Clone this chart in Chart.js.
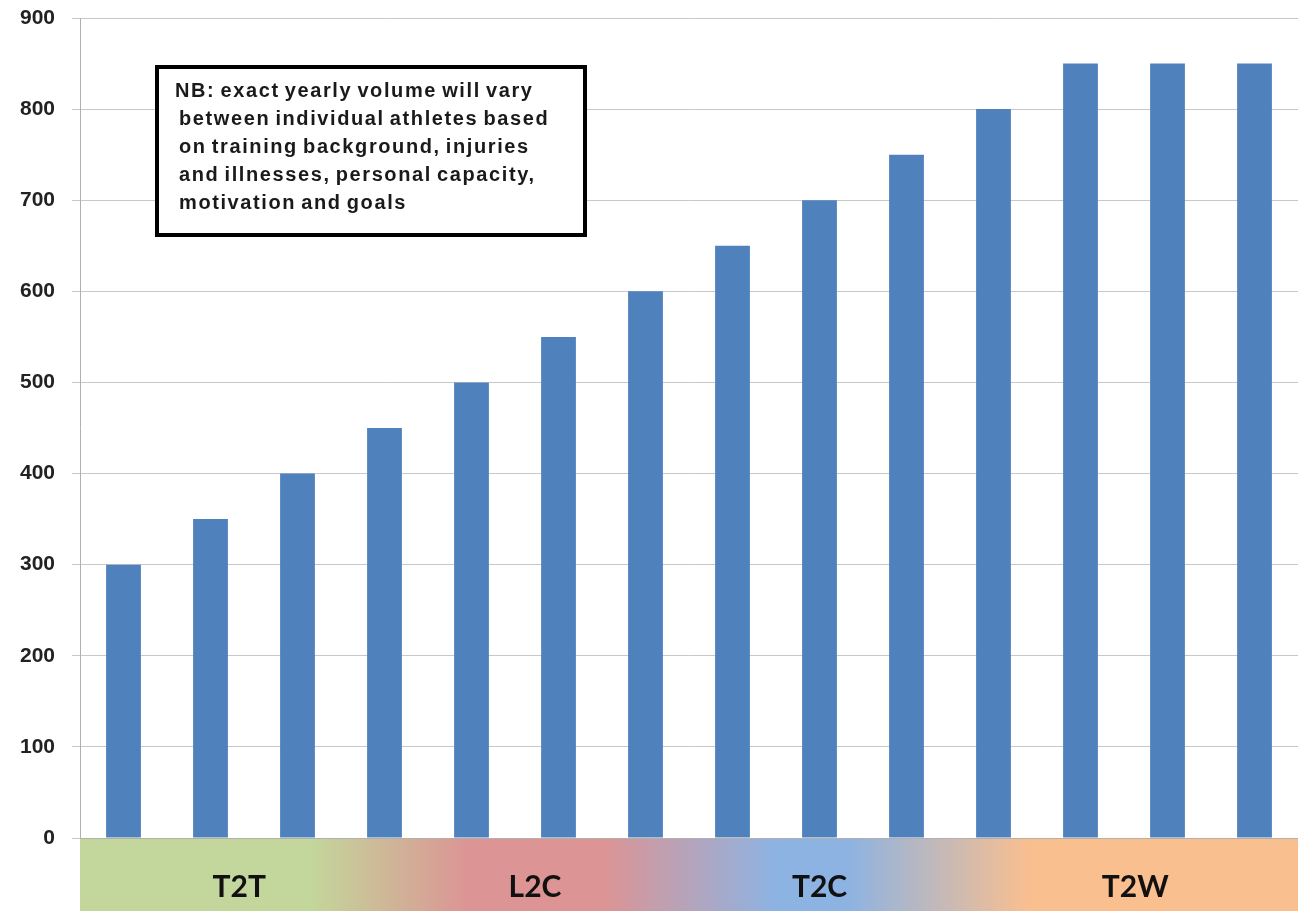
<!DOCTYPE html>
<html><head><meta charset="utf-8">
<script src="https://cdn.jsdelivr.net/npm/chart.js@4"></script>
<style>html,body{margin:0;padding:0;background:#fff;}#wrap{width:1298px;height:911px;}</style>
</head><body><div id="wrap"><canvas id="c"></canvas></div>
<script>
const categories = ['1','2','3','4','5','6','7','8','9','10','11','12','13','14'];
const volumes = [300,350,400,450,500,550,600,650,700,750,800,850,850,850];
const phaseLabels = ['T2T','L2C','T2C','T2W'];
const phaseCentres = [1.33,4.73,8.0,11.63];
const noteLines = ['NB: exact yearly volume will vary','between individual athletes based','on training background, injuries','and illnesses, personal capacity,','motivation and goals'];

const bandPlugin = {
  id:'band',
  beforeDraw(chart){
    const {ctx, chartArea:a} = chart;
    ctx.save();
    ctx.fillStyle='#fff';ctx.fillRect(0,0,chart.width,chart.height);
    const w=a.right-a.left;
    const g=ctx.createLinearGradient(a.left,0,a.right,0);
    g.addColorStop(0,'#c3d69b');g.addColorStop(0.19,'#c3d69b');
    g.addColorStop(0.32,'#dc9494');g.addColorStop(0.43,'#dc9494');
    g.addColorStop(0.57,'#8db3e2');g.addColorStop(0.63,'#8db3e2');
    g.addColorStop(0.78,'#fabf8f');g.addColorStop(1,'#fabf8f');
    ctx.fillStyle=g;
    ctx.fillRect(a.left,a.bottom,w,chart.height-a.bottom);
    ctx.fillStyle='#111';
    ctx.font='bold 30px Lato, "Open Sans", sans-serif';
    ctx.textAlign='center';ctx.textBaseline='alphabetic';
    phaseLabels.forEach((l,i)=>{
      const px=a.left+(phaseCentres[i]+0.5)*w/categories.length;
      ctx.fillText(l,px,a.bottom+59);
    });
    ctx.restore();
  },
  afterDraw(chart){
    const {ctx}=chart;
    ctx.save();
    ctx.fillStyle='#fff';
    ctx.fillRect(157,67,428,168);
    ctx.lineWidth=4;ctx.strokeStyle='#000';
    ctx.strokeRect(157,67,428,168);
    ctx.fillStyle='#1a1a1a';
    ctx.font='bold 20px "Liberation Sans", Arial, sans-serif';
    ctx.letterSpacing='1.6px';
    ctx.wordSpacing='-2px';
    ctx.textAlign='left';ctx.textBaseline='alphabetic';
    noteLines.forEach((l,i)=>ctx.fillText(l,i===0?175:179,97+i*28));
    ctx.restore();
  }
};

new Chart(document.getElementById('c'),{
  type:'bar',
  data:{labels:categories,datasets:[{data:volumes,backgroundColor:'#4f81bd',barPercentage:0.4,categoryPercentage:1}]},
  options:{
    responsive:true,maintainAspectRatio:false,animation:false,
    layout:{padding:{top:18,bottom:65,right:0,left:0}},
    plugins:{legend:{display:false},tooltip:{enabled:false}},
    scales:{
      x:{ticks:{display:false},grid:{display:false},border:{display:true,color:'#b0b0b0',width:1}},
      y:{min:0,max:900,ticks:{stepSize:100,color:'#222',padding:17,font:{family:'"Liberation Sans", Arial, sans-serif',size:21,weight:'bold'}},
         grid:{color:'#c8c8c8',tickLength:8},border:{display:true,color:'#b0b0b0'},
         afterFit(s){s.width=80;s.paddingTop=0;s.paddingBottom=0;}}
    }
  },
  plugins:[bandPlugin]
});
</script></body></html>
